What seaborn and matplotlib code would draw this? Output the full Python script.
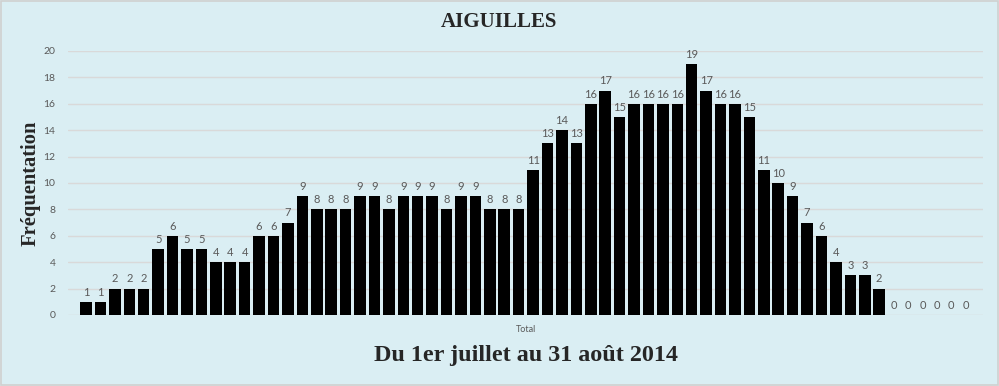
import matplotlib
matplotlib.use("Agg")
import matplotlib.pyplot as plt
import seaborn as sns
import pandas as pd

# Daily attendance, 1 July -> 31 August 2014 (62 days)
days = list(range(1, 63))
visits = [1, 1, 2, 2, 2, 5, 6, 5, 5, 4, 4, 4, 6, 6, 7, 9, 8, 8, 8, 9,
          9, 8, 9, 9, 9, 8, 9, 9, 8, 8, 8, 11, 13, 14, 13, 16, 17, 15, 16, 16,
          16, 16, 19, 17, 16, 16, 15, 11, 10, 9, 7, 6, 4, 3, 3, 2, 0, 0, 0, 0,
          0, 0]
y_ticks = list(range(0, 21, 2))

title = "AIGUILLES"
y_title = "Fréquentation"
x_cat = "Total"
x_title = "Du 1er juillet au 31 août 2014"

df = pd.DataFrame({"Jour": days, "Visites": visits})

sns.set_theme(style="white")
plt.rcParams["font.family"] = ["Lato", "DejaVu Sans"]

bg = "#DAEEF3"
fig = plt.figure(figsize=(9.99, 3.86), dpi=100)
fig.patch.set_facecolor(bg)
W, H = 999, 386
ax = fig.add_axes([68 / W, 71 / H, (983 - 68) / W, (315 - 51) / H])
ax.set_facecolor(bg)

sns.barplot(data=df, x="Jour", y="Visites", color="black", saturation=1,
            width=0.8, edgecolor="black", linewidth=0, ax=ax)

ax.set_ylim(0, 20)
ax.set_xlim(-1.25, 62.2)
ax.set_yticks(y_ticks)
ax.set_yticklabels([str(t) for t in y_ticks], fontsize=7.5, color="#595959")
ax.set_xticks([])
ax.tick_params(axis="y", length=0, pad=9)

ax.grid(axis="y", color="#D9D9D9", linewidth=1)
ax.set_axisbelow(True)
for s in ax.spines.values():
    s.set_visible(False)

ax.bar_label(ax.containers[0], labels=[str(v) for v in visits],
             padding=3, fontsize=8, color="#595959")

ax.set_xlabel("")
ax.set_ylabel("")

serif = ["Liberation Serif", "DejaVu Serif"]
fig.text(499 / W, 1 - 22 / H, title, ha="center", va="center",
         fontsize=15, fontweight="bold", family=serif)
fig.text(31 / W, 1 - 183 / H, y_title, ha="center", va="center",
         rotation=90, fontsize=14.8, fontweight="bold", family=serif)
fig.text(526 / W, 1 - 330 / H, x_cat, ha="center", va="center",
         fontsize=6.5, color="#595959")
fig.text(526 / W, 1 - 356 / H, x_title, ha="center", va="center",
         fontsize=17.4, fontweight="bold", family=serif)

# light border around the chart
fig.patches.append(plt.Rectangle((0.001, 0.002), 0.998, 0.996,
                                 transform=fig.transFigure, fill=False,
                                 edgecolor="#D0D0D0", linewidth=1.2))

fig.savefig("out.png", dpi=100, facecolor=bg)
